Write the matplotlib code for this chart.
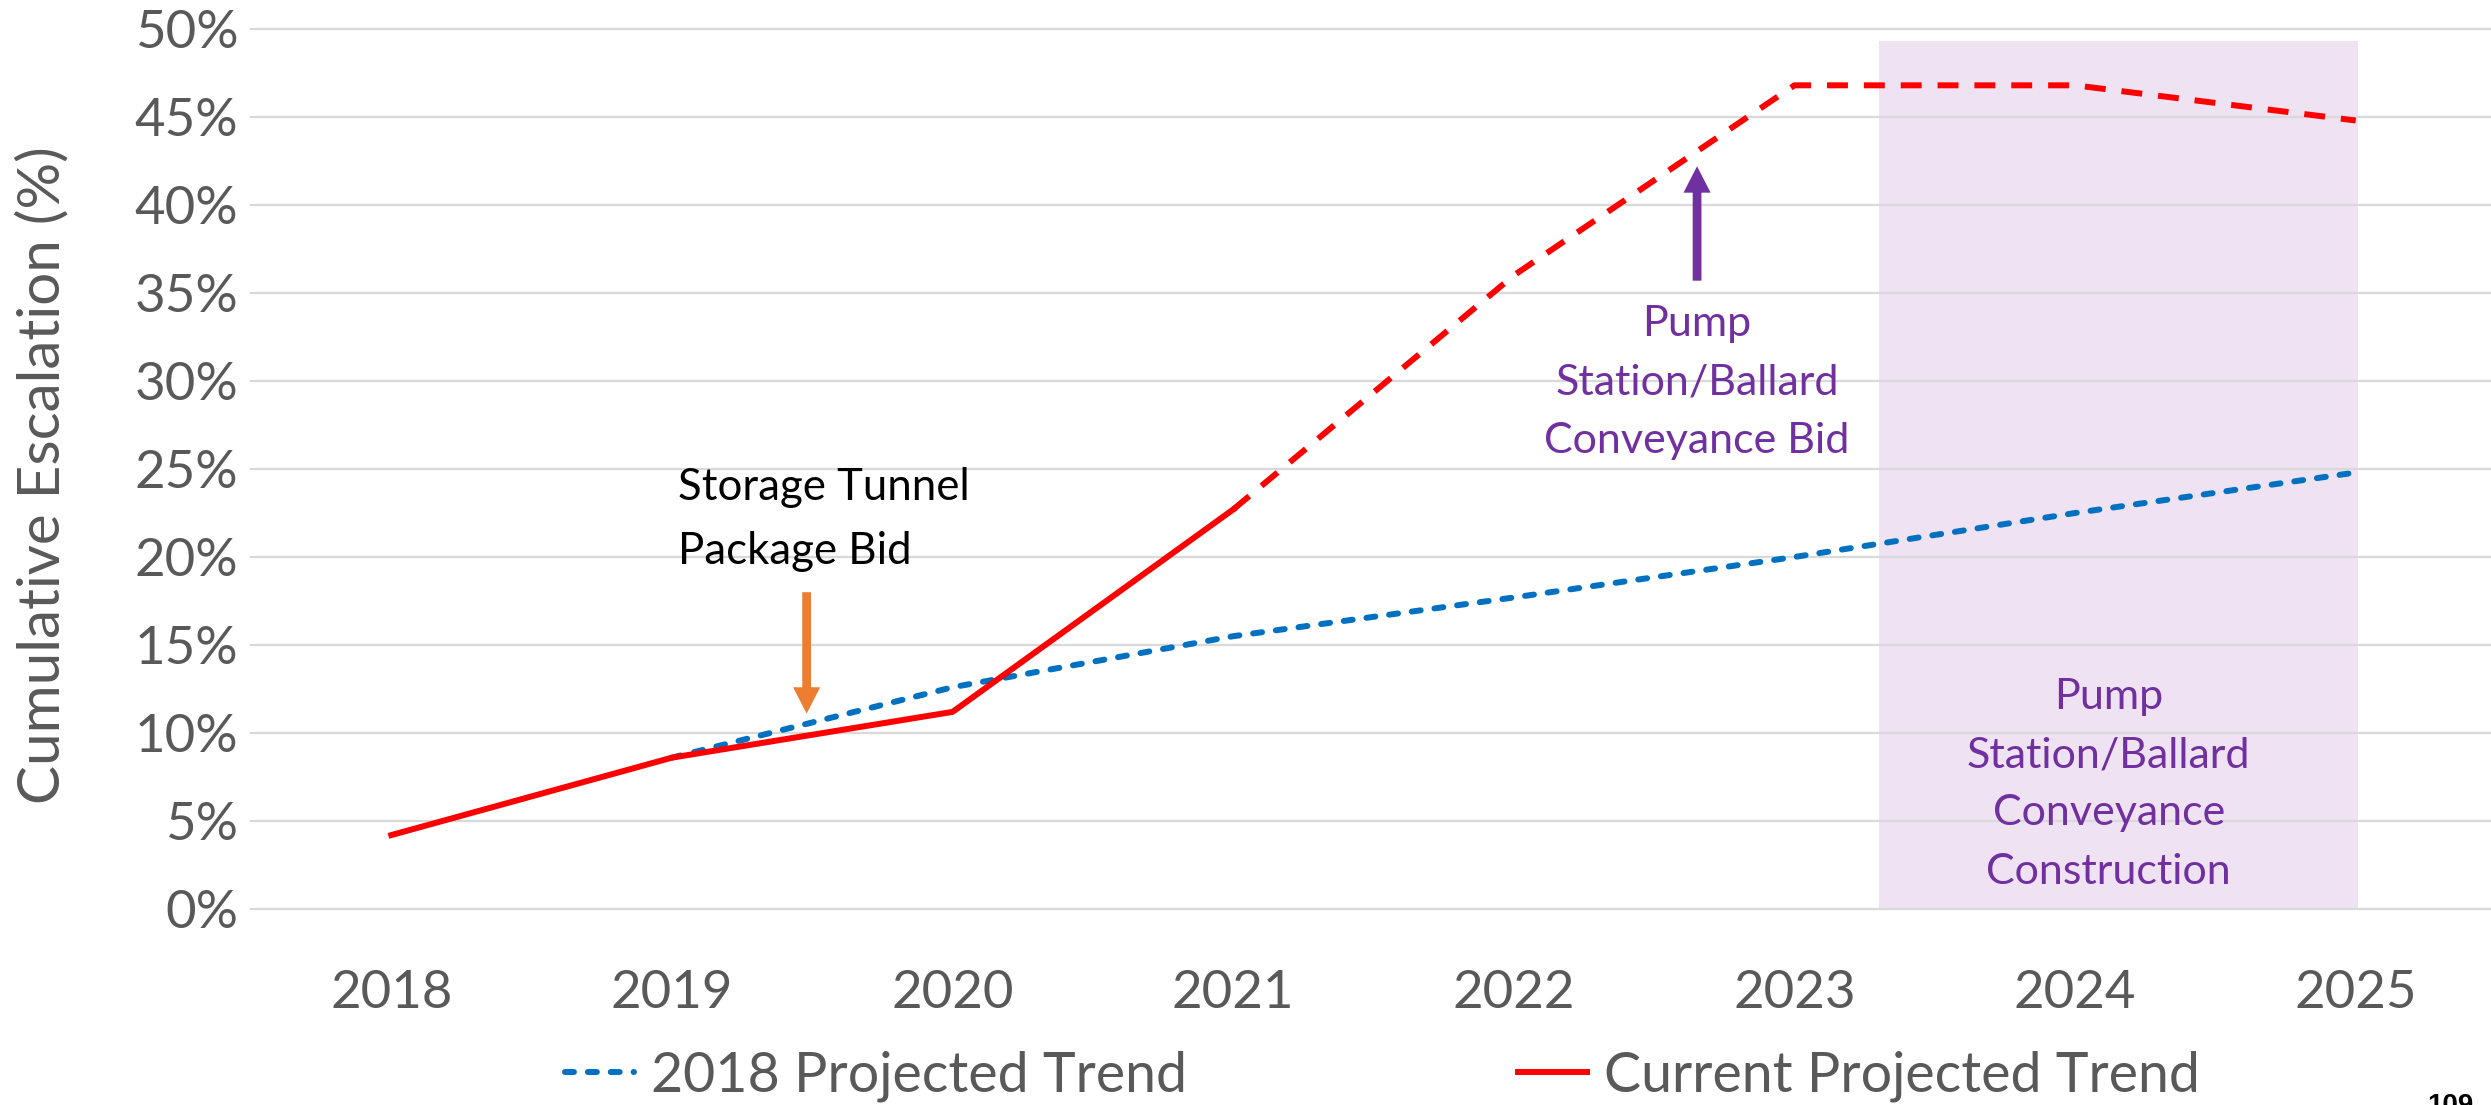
import numpy as np
import matplotlib
matplotlib.use("Agg")
import matplotlib.pyplot as plt
from matplotlib.lines import Line2D

# chart data (percent)
years = ['2018', '2019', '2020', '2021', '2022', '2023', '2024', '2025']
trend_2018 = [np.nan, 8.6, 12.6, 15.5, 17.7, 20.0, 22.5, 24.8]
current_solid = [4.2, 8.6, 11.2, 22.7, np.nan, np.nan, np.nan, np.nan]
current_dashed = [np.nan, np.nan, np.nan, 22.7, 36.0, 46.8, 46.8, 44.8]
y_ticks = [0, 5, 10, 15, 20, 25, 30, 35, 40, 45, 50]
y_tick_labels = ['0%', '5%', '10%', '15%', '20%', '25%', '30%', '35%', '40%', '45%', '50%']
legend_labels = ['2018 Projected Trend', 'Current Projected Trend']

BLUE = '#0070C0'
RED = '#FF0000'
ORANGE = '#ED7D31'
PURPLE = '#7030A0'
GREY = '#595959'
SHADE = '#EFE3F3'
FONT = 'Lato'
LW = 4.3

W, H = 2491, 1105
fig = plt.figure(figsize=(W / 100, H / 100), dpi=100)
ax = fig.add_axes([251 / W, 1 - 909 / H, 2245 / W, 880 / H])

x = np.arange(len(years))

# construction window shading
ax.axvspan(5.30, 7.01, ymin=0, ymax=49.3 / 50, color=SHADE, lw=0, zorder=0.3)

ax.plot(x, trend_2018, color=BLUE, lw=LW, dashes=(1.5, 2.33),
        dash_capstyle='round', zorder=2)
ax.plot(x, current_solid, color=RED, lw=LW, zorder=3)
ax.plot(x, current_dashed, color=RED, lw=LW, dashes=(3.5, 2.67),
        dash_capstyle='butt', zorder=3)

ax.set_xlim(-0.5, len(years) - 0.5)
ax.set_ylim(0, 50)
ax.set_xticks(x)
ax.set_xticklabels(years, fontsize=38, color=GREY, fontfamily=FONT)
ax.set_yticks(y_ticks)
ax.set_yticklabels(y_tick_labels, fontsize=38, color=GREY, fontfamily=FONT)
ax.tick_params(axis='x', length=0, pad=44)
ax.tick_params(axis='y', length=0, pad=9)
for s in ax.spines.values():
    s.set_visible(False)
ax.grid(axis='y', color='#D9D9D9', lw=1.6)
ax.set_axisbelow(True)
for gl in ax.get_ygridlines():
    gl.set_clip_on(False)

fig.text(0.017, 1 - 475 / H, 'Cumulative Escalation (%)', rotation=90,
         ha='center', va='center', fontsize=42, color=GREY, fontfamily=FONT)

# annotations
arrow_kw = dict(arrowstyle='simple,head_length=19,head_width=19.5,tail_width=6.3',
                mutation_scale=1, shrinkA=0, shrinkB=0, lw=0)
ax.annotate('', xy=(1.48, 11.1), xytext=(1.48, 18.0),
            arrowprops=dict(color=ORANGE, **arrow_kw), zorder=4)
ax.annotate('', xy=(4.653, 42.2), xytext=(4.653, 35.7),
            arrowprops=dict(color=PURPLE, **arrow_kw), zorder=4)

ax.text(1.022, 25.1, 'Storage Tunnel\nPackage Bid', ha='left', va='top',
        fontsize=31.5, color='black', fontfamily=FONT, linespacing=1.68)
ax.text(4.653, 34.3, 'Pump\nStation/Ballard\nConveyance Bid', ha='center',
        va='top', fontsize=31, color=PURPLE, fontfamily=FONT, linespacing=1.65)
ax.text(6.12, 13.15, 'Pump\nStation/Ballard\nConveyance\nConstruction',
        ha='center', va='top', fontsize=31, color=PURPLE, fontfamily=FONT,
        linespacing=1.66)

handles = [Line2D([], [], color=BLUE, lw=LW, dashes=(1.5, 2.33),
                  dash_capstyle='round'),
           Line2D([], [], color=RED, lw=LW)]
leg = fig.legend(handles, legend_labels, loc='center left',
                 bbox_to_anchor=(565 / W, 1 - 1076 / H), ncol=2, frameon=False,
                 handlelength=1.25, handletextpad=0.3, columnspacing=5.95,
                 borderpad=0, borderaxespad=0,
                 prop={'family': FONT, 'size': 40})
for t in leg.get_texts():
    t.set_color(GREY)

fig.text(2450 / W, 1 - 1113 / H, '109', ha='center', va='baseline',
         fontsize=20, fontweight='bold', color='black',
         fontfamily='Liberation Sans')

fig.savefig('out.png', dpi=100)
